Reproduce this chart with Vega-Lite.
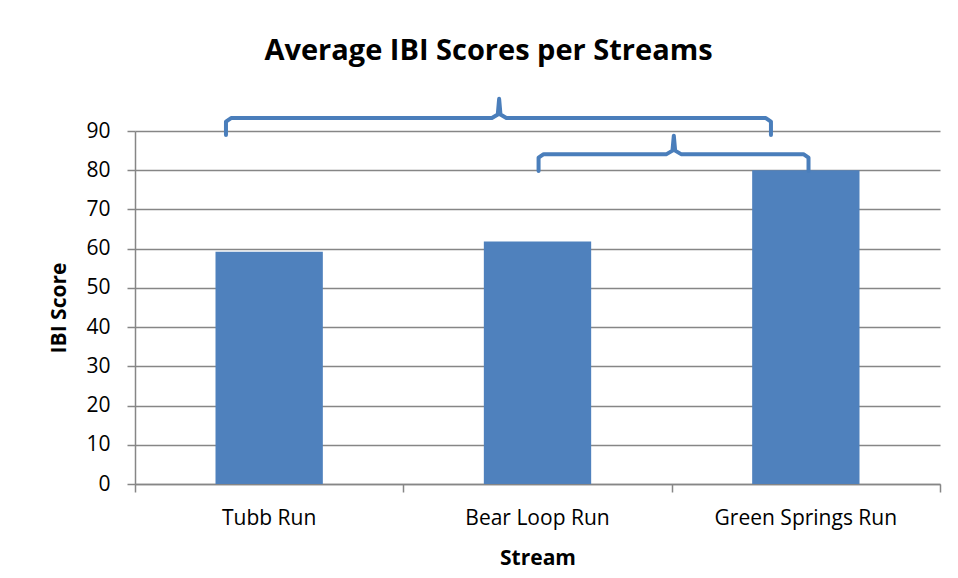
{
  "$schema": "https://vega.github.io/schema/vega-lite/v6.json",
  "width": 805,
  "height": 353,
  "autosize": {"type": "none"},
  "padding": {"left": 135, "top": 131, "right": 18, "bottom": 94},
  "background": "white",
  "title": {
    "text": "Average IBI Scores per Streams",
    "font": "Open Sans",
    "fontSize": 29,
    "fontWeight": "bold",
    "color": "black",
    "anchor": "middle",
    "dx": -49,
    "offset": 31
  },
  "config": {
    "view": {"stroke": null},
    "font": "Open Sans",
    "axisY": {
      "grid": true,
      "gridColor": "#868686",
      "gridWidth": 1.5,
      "tickColor": "#868686",
      "tickWidth": 1.5,
      "tickSize": 8,
      "domainColor": "#868686",
      "domainWidth": 1.5,
      "labelFont": "Open Sans",
      "labelFontSize": 21,
      "labelColor": "black",
      "labelPadding": 17,
      "labelOverlap": false,
      "titleFont": "Open Sans",
      "titleFontSize": 21,
      "titleFontWeight": "bold",
      "titleColor": "black",
      "titlePadding": 16
    }
  },
  "layer": [
    {
      "data": {
        "values": [
          {"stream": "Tubb Run", "score": 59.2},
          {"stream": "Bear Loop Run", "score": 61.8},
          {"stream": "Green Springs Run", "score": 80}
        ]
      },
      "mark": {"type": "bar", "color": "#4F81BD"},
      "encoding": {
        "x": {
          "field": "stream",
          "type": "nominal",
          "sort": null,
          "scale": {"paddingInner": 0.6, "paddingOuter": 0.3},
          "axis": {
            "title": "Stream",
            "labelAngle": 0,
            "labelLimit": 0,
            "ticks": false,
            "domain": false,
            "labelFont": "Open Sans",
            "labelFontSize": 21,
            "labelColor": "black",
            "labelPadding": 23,
            "titleFont": "Open Sans",
            "titleFontSize": 21,
            "titleFontWeight": "bold",
            "titleColor": "black",
            "titlePadding": 19
          }
        },
        "y": {
          "field": "score",
          "type": "quantitative",
          "scale": {"domain": [0, 90], "nice": false},
          "axis": {
            "title": "IBI Score",
            "values": [0, 10, 20, 30, 40, 50, 60, 70, 80, 90]
          }
        }
      }
    },
    {
      "data": {
        "values": [
          {"brace": "A", "i": 1, "u": 0.339, "v": 89.0},
          {"brace": "A", "i": 2, "u": 0.339, "v": 92.4},
          {"brace": "A", "i": 3, "u": 0.358, "v": 93.3},
          {"brace": "A", "i": 4, "u": 1.33, "v": 93.3},
          {"brace": "A", "i": 5, "u": 1.352, "v": 94.2},
          {"brace": "A", "i": 6, "u": 1.357, "v": 98.2},
          {"brace": "A", "i": 7, "u": 1.362, "v": 94.2},
          {"brace": "A", "i": 8, "u": 1.384, "v": 93.3},
          {"brace": "A", "i": 9, "u": 2.351, "v": 93.3},
          {"brace": "A", "i": 10, "u": 2.37, "v": 92.4},
          {"brace": "A", "i": 11, "u": 2.37, "v": 89.0},
          {"brace": "B", "i": 1, "u": 1.504, "v": 79.8},
          {"brace": "B", "i": 2, "u": 1.504, "v": 83.2},
          {"brace": "B", "i": 3, "u": 1.523, "v": 84.1},
          {"brace": "B", "i": 4, "u": 1.981, "v": 84.1},
          {"brace": "B", "i": 5, "u": 2.003, "v": 85.0},
          {"brace": "B", "i": 6, "u": 2.008, "v": 88.8},
          {"brace": "B", "i": 7, "u": 2.013, "v": 85.0},
          {"brace": "B", "i": 8, "u": 2.035, "v": 84.1},
          {"brace": "B", "i": 9, "u": 2.491, "v": 84.1},
          {"brace": "B", "i": 10, "u": 2.51, "v": 83.2},
          {"brace": "B", "i": 11, "u": 2.51, "v": 79.8}
        ]
      },
      "mark": {
        "type": "line",
        "color": "#4A7EBB",
        "strokeWidth": 4,
        "strokeCap": "round",
        "strokeJoin": "round",
        "clip": false
      },
      "encoding": {
        "x": {
          "field": "u",
          "type": "quantitative",
          "scale": {"domain": [0, 3], "nice": false, "zero": false},
          "axis": {
            "orient": "bottom",
            "values": [0, 1, 2, 3],
            "labels": false,
            "title": null,
            "grid": false,
            "tickSize": 8,
            "tickColor": "#868686",
            "tickWidth": 1.5,
            "domainColor": "#868686",
            "domainWidth": 1.5
          }
        },
        "y": {
          "field": "v",
          "type": "quantitative",
          "scale": {"domain": [0, 90], "nice": false},
          "axis": {
            "title": "IBI Score",
            "values": [0, 10, 20, 30, 40, 50, 60, 70, 80, 90]
          }
        },
        "detail": {"field": "brace"},
        "order": {"field": "i"}
      }
    }
  ],
  "resolve": {"scale": {"x": "independent"}}
}
